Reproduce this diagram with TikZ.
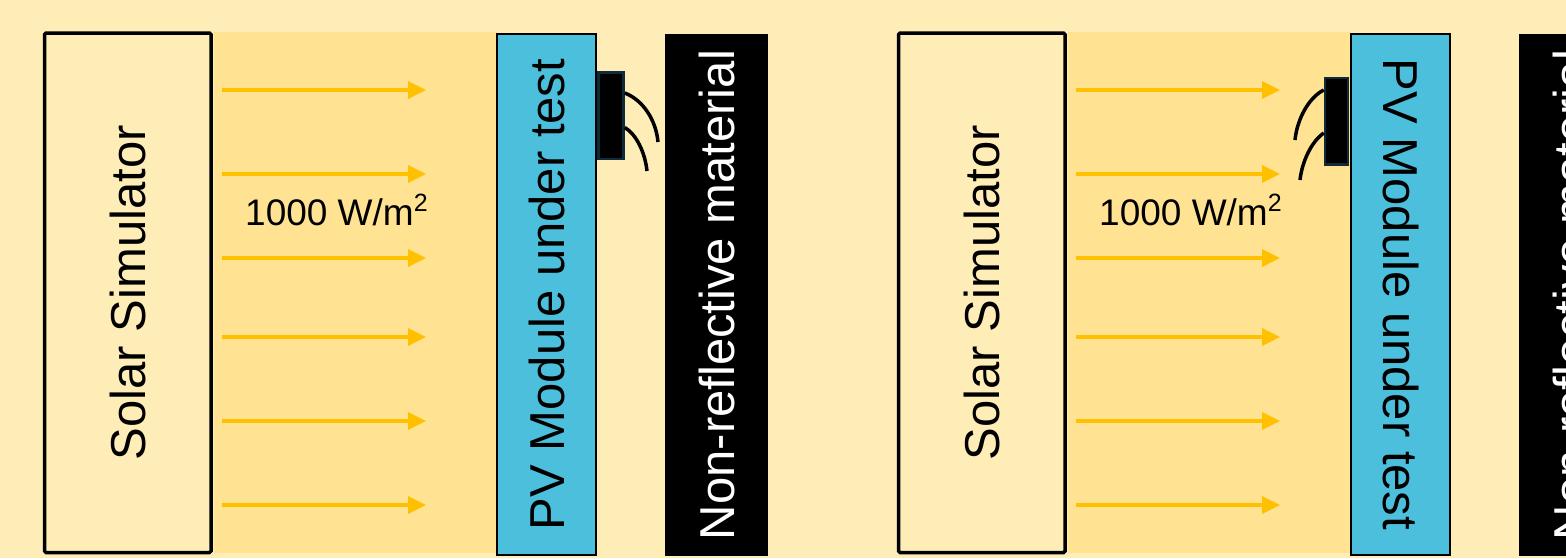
\documentclass[tikz,border=0pt]{standalone}
\usepackage{fontspec}
\setmainfont{Liberation Sans}
\usetikzlibrary{arrows.meta}

\definecolor{bgyellow}{HTML}{FFEDB8}
\definecolor{beam}{HTML}{FFE392}
\definecolor{pvblue}{HTML}{4BBFDC}
\definecolor{ray}{HTML}{FFC000}
\definecolor{sensoredge}{HTML}{0D2B3B}

\newcommand{\sqm}{m\raisebox{14pt}{\fontsize{25}{25}\selectfont 2}}

\tikzset{
  bigtext/.style={font=\fontsize{49}{58}\selectfont},
  simbox/.style={draw=black, line width=3.5pt, fill=bgyellow, rounded corners=1.5pt,
    inner sep=0pt, minimum width=166.5pt, minimum height=519.5pt, bigtext},
  pvbox/.style={draw=black, line width=2pt, fill=pvblue, inner sep=0pt,
    minimum width=99pt, minimum height=521pt, bigtext},
  blackbox/.style={fill=black, inner sep=0pt, minimum width=103pt,
    minimum height=522pt, bigtext, text=white},
  sensorbox/.style={draw=sensoredge, line width=2.5pt, fill=black, inner sep=0pt,
    minimum width=25pt, minimum height=86.5pt},
  beamband/.style={fill=beam},
  rayline/.style={draw=ray, line width=3.5pt, -{Triangle[length=18pt,width=17pt]}},
  wire/.style={draw=black, line width=3.5pt},
  irrad/.style={font=\fontsize{37}{44}\selectfont, inner sep=0pt, anchor=base west},
}

\begin{document}
\begin{tikzpicture}[x=1pt,y=-1pt]
  \useasboundingbox (0,0) rectangle (1566,558);
  \clip (0,0) rectangle (1566,558);
  \fill[bgyellow] (0,0) rectangle (1566,558);

  % ---------- first set-up: sensor on the rear side ----------
  \fill[beamband] (214,32) rectangle (497,553);
  \node[simbox] (simA) at (127.75,292.75) {\rotatebox{90}{Solar Simulator}};
  \foreach \yy [count=\i] in {90,174,258,337,421,505} {
    \coordinate (srcA\i) at (222,\yy);
    \coordinate (dstA\i) at (426,\yy);
    \draw[rayline] (srcA\i) -- (dstA\i);
  }
  \node[irrad] (irrA) at (245,225) {1000 W/\sqm};
  \node[pvbox] (pvA) at (546.5,294.5) {\rotatebox{90}{PV Module under test}};
  \node[blackbox] (nrA) at (716.5,295) {\rotatebox{90}{Non-reflective material}};
  \node[sensorbox] (senA) at (611,115.5) {};
  \coordinate (wA1) at (658,142);
  \coordinate (wA2) at (647,171);
  \draw[wire] ([yshift=22.5pt]senA.east) .. controls (643,100) and (656,120) .. (wA1);
  \draw[wire] ([yshift=-12pt]senA.east) .. controls (636,134) and (645,152) .. (wA2);

  % ---------- second set-up: sensor on the front side ----------
  \fill[beamband] (1068,32) rectangle (1351,553);
  \node[simbox] (simB) at (981.75,292.75) {\rotatebox{90}{Solar Simulator}};
  \foreach \yy [count=\i] in {90,174,258,337,421,505} {
    \coordinate (srcB\i) at (1076,\yy);
    \coordinate (dstB\i) at (1280,\yy);
    \draw[rayline] (srcB\i) -- (dstB\i);
  }
  \node[irrad] (irrB) at (1099,225) {1000 W/\sqm};
  \node[pvbox] (pvB) at (1400.5,294.5) {\rotatebox{-90}{PV Module under test}};
  \node[blackbox] (nrB) at (1570.5,295) {\rotatebox{90}{Non-reflective material}};
  \node[sensorbox, minimum width=23pt] (senB) at (1336.5,121) {};
  \coordinate (wB1) at (1295,140);
  \coordinate (wB2) at (1300,180);
  \draw[wire] ([yshift=31pt]senB.west) .. controls (1308,98) and (1297,120) .. (wB1);
  \draw[wire] ([yshift=-12pt]senB.west) .. controls (1311,142) and (1302,162) .. (wB2);
\end{tikzpicture}
\end{document}
